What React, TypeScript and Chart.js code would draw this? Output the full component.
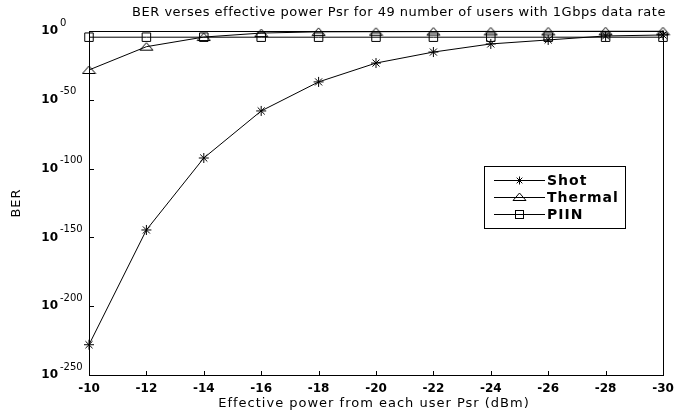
import { useEffect, useRef } from "react";
import { Chart, registerables } from "chart.js";

Chart.register(...registerables);

// Effective received power per user (dBm)
const powerDbm = [-10, -12, -14, -16, -18, -20, -22, -24, -26, -28, -30];

// BER for each noise limit, stored as log10(BER)
const shotLogBer = [-228, -144.6, -92.3, -58.1, -37, -23.3, -15.3, -9.4, -6.5, -3.6, -2.9];
const thermalLogBer = [-28.3, -11.4, -4.4, -1.5, -0.6, -0.5, -0.4, -0.3, -0.3, -0.2, -0.2];
const piinLogBer = [-4.5, -4.5, -4.5, -4.5, -4.5, -4.5, -4.5, -4.5, -4.5, -4.5, -4.5];

const seriesNames = ["Shot", "Thermal", "PIIN"];
const xTickValues = [-10, -12, -14, -16, -18, -20, -22, -24, -26, -28, -30];
const yTickExponents = [0, -50, -100, -150, -200, -250];

const titleText = "BER verses effective power Psr for 49 number of users with 1Gbps data rate";
const xTitleText = "Effective power from each user Psr (dBm)";
const yTitleText = "BER";

const FONT = "'DejaVu Sans', 'Liberation Sans', Arial, sans-serif";

function makeTriangle(): HTMLCanvasElement {
  const c = document.createElement("canvas");
  c.width = 15;
  c.height = 10;
  const g = c.getContext("2d")!;
  g.strokeStyle = "#000";
  g.lineWidth = 1;
  g.beginPath();
  g.moveTo(1, 8.5);
  g.lineTo(14, 8.5);
  g.lineTo(7.5, 1);
  g.closePath();
  g.stroke();
  return c;
}

function drawStar(ctx: CanvasRenderingContext2D, x: number, y: number, r: number) {
  const d = r * Math.SQRT1_2;
  ctx.beginPath();
  ctx.moveTo(x - r, y);
  ctx.lineTo(x + r, y);
  ctx.moveTo(x, y - r);
  ctx.lineTo(x, y + r);
  ctx.moveTo(x - d, y - d);
  ctx.lineTo(x + d, y + d);
  ctx.moveTo(x - d, y + d);
  ctx.lineTo(x + d, y - d);
  ctx.stroke();
}

export default function App() {
  const canvasRef = useRef<HTMLCanvasElement | null>(null);

  useEffect(() => {
    const canvas = canvasRef.current;
    if (!canvas) return;
    const triangle = makeTriangle();

    const decor = {
      id: "decor",
      beforeDatasetsDraw(chart: any) {
        const { ctx, chartArea: a } = chart;
        const xs = chart.scales.x;
        const ys = chart.scales.y;
        ctx.save();
        ctx.strokeStyle = "#000";
        ctx.lineWidth = 1;
        ctx.strokeRect(a.left + 0.5, a.top + 0.5, a.right - a.left, a.bottom - a.top);
        ctx.beginPath();
        xTickValues.slice(1, -1).forEach((v) => {
          const px = Math.round(xs.getPixelForValue(v)) + 0.5;
          ctx.moveTo(px, a.bottom);
          ctx.lineTo(px, a.bottom - 4);
        });
        yTickExponents.slice(1, -1).forEach((v) => {
          const py = Math.round(ys.getPixelForValue(v)) + 0.5;
          ctx.moveTo(a.left, py);
          ctx.lineTo(a.left + 5, py);
        });
        ctx.stroke();
        ctx.restore();
      },
      afterDraw(chart: any) {
        const { ctx, chartArea: a } = chart;
        const xs = chart.scales.x;
        const ys = chart.scales.y;
        ctx.save();
        ctx.fillStyle = "#000";

        // title
        ctx.font = `13px ${FONT}`;
        (ctx as any).letterSpacing = "0.5px";
        ctx.textAlign = "center";
        ctx.textBaseline = "middle";
        ctx.fillText(titleText, 399, 13);

        // x tick labels
        (ctx as any).letterSpacing = "0px";
        ctx.font = `bold 12px ${FONT}`;
        xTickValues.forEach((v) => {
          ctx.fillText(String(v), xs.getPixelForValue(v), a.bottom + 14);
        });

        // x title
        ctx.font = `13px ${FONT}`;
        (ctx as any).letterSpacing = "1px";
        ctx.fillText(xTitleText, 374, a.bottom + 29);

        // y title
        ctx.save();
        ctx.translate(17, (a.top + a.bottom) / 2);
        ctx.rotate(-Math.PI / 2);
        ctx.fillText(yTitleText, 0, 0);
        ctx.restore();
        (ctx as any).letterSpacing = "0px";

        // y tick labels as 10^n
        yTickExponents.forEach((e) => {
          const py = ys.getPixelForValue(e);
          ctx.font = `bold 12px ${FONT}`;
          ctx.textAlign = "right";
          ctx.fillText("10", 58, py);
          ctx.font = `10px ${FONT}`;
          ctx.textAlign = "left";
          ctx.fillText(String(e), 60, py - 8);
        });

        // legend
        const lx = a.right - 179;
        const ly = a.top + 135;
        ctx.fillStyle = "#fff";
        ctx.fillRect(lx, ly, 141, 62);
        ctx.strokeStyle = "#000";
        ctx.lineWidth = 1;
        ctx.strokeRect(lx + 0.5, ly + 0.5, 141, 62);
        ctx.fillStyle = "#000";
        ctx.font = `bold 14px ${FONT}`;
        (ctx as any).letterSpacing = "1px";
        ctx.textAlign = "left";
        seriesNames.forEach((name, i) => {
          const y = ly + 14 + i * 17;
          const yy = Math.round(y) + 0.5;
          ctx.beginPath();
          ctx.moveTo(lx + 10, yy);
          ctx.lineTo(lx + 61, yy);
          ctx.stroke();
          const mx = lx + 35.5;
          if (i === 0) drawStar(ctx, mx, yy, 4);
          else if (i === 1) ctx.drawImage(triangle, mx - 7.5, yy - 5.5);
          else ctx.strokeRect(mx - 4, yy - 4, 8, 8);
          ctx.fillText(name, lx + 63, y + 1);
        });
        ctx.restore();
      },
    };

    const toPoints = (vals: number[]) => powerDbm.map((x, i) => ({ x, y: vals[i] }));
    const common = {
      borderColor: "#000",
      borderWidth: 1,
      pointBorderColor: "#000",
      pointBackgroundColor: "rgba(0,0,0,0)",
      pointBorderWidth: 1,
      tension: 0,
      fill: false,
      clip: false as any,
    };

    const chart = new Chart(canvas, {
      type: "line",
      data: {
        datasets: [
          { ...common, label: seriesNames[0], data: toPoints(shotLogBer), pointStyle: "star", pointRadius: 5 },
          { ...common, label: seriesNames[1], data: toPoints(thermalLogBer), pointStyle: triangle as any, pointRadius: 6 },
          { ...common, label: seriesNames[2], data: toPoints(piinLogBer), pointStyle: "rect", pointRadius: 6 },
        ],
      },
      options: {
        animation: false,
        responsive: false,
        devicePixelRatio: 1,
        layout: { padding: { left: 89, right: 19, top: 31, bottom: 37 } },
        plugins: { legend: { display: false }, tooltip: { enabled: false }, title: { display: false } },
        scales: {
          x: {
            type: "linear",
            reverse: true,
            min: -30,
            max: -10,
            ticks: { display: false, stepSize: 2 },
            grid: { display: false, drawTicks: false },
            border: { display: false },
          },
          y: {
            type: "linear",
            min: -250,
            max: 0,
            ticks: { display: false, stepSize: 50 },
            grid: { display: false, drawTicks: false },
            border: { display: false },
          },
        },
      },
      plugins: [decor],
    });
    return () => chart.destroy();
  }, []);

  return (
    <div style={{ position: "fixed", left: 0, top: 0, width: 682, height: 412, background: "#fff" }}>
      <canvas ref={canvasRef} width={682} height={412} style={{ display: "block" }} />
    </div>
  );
}
